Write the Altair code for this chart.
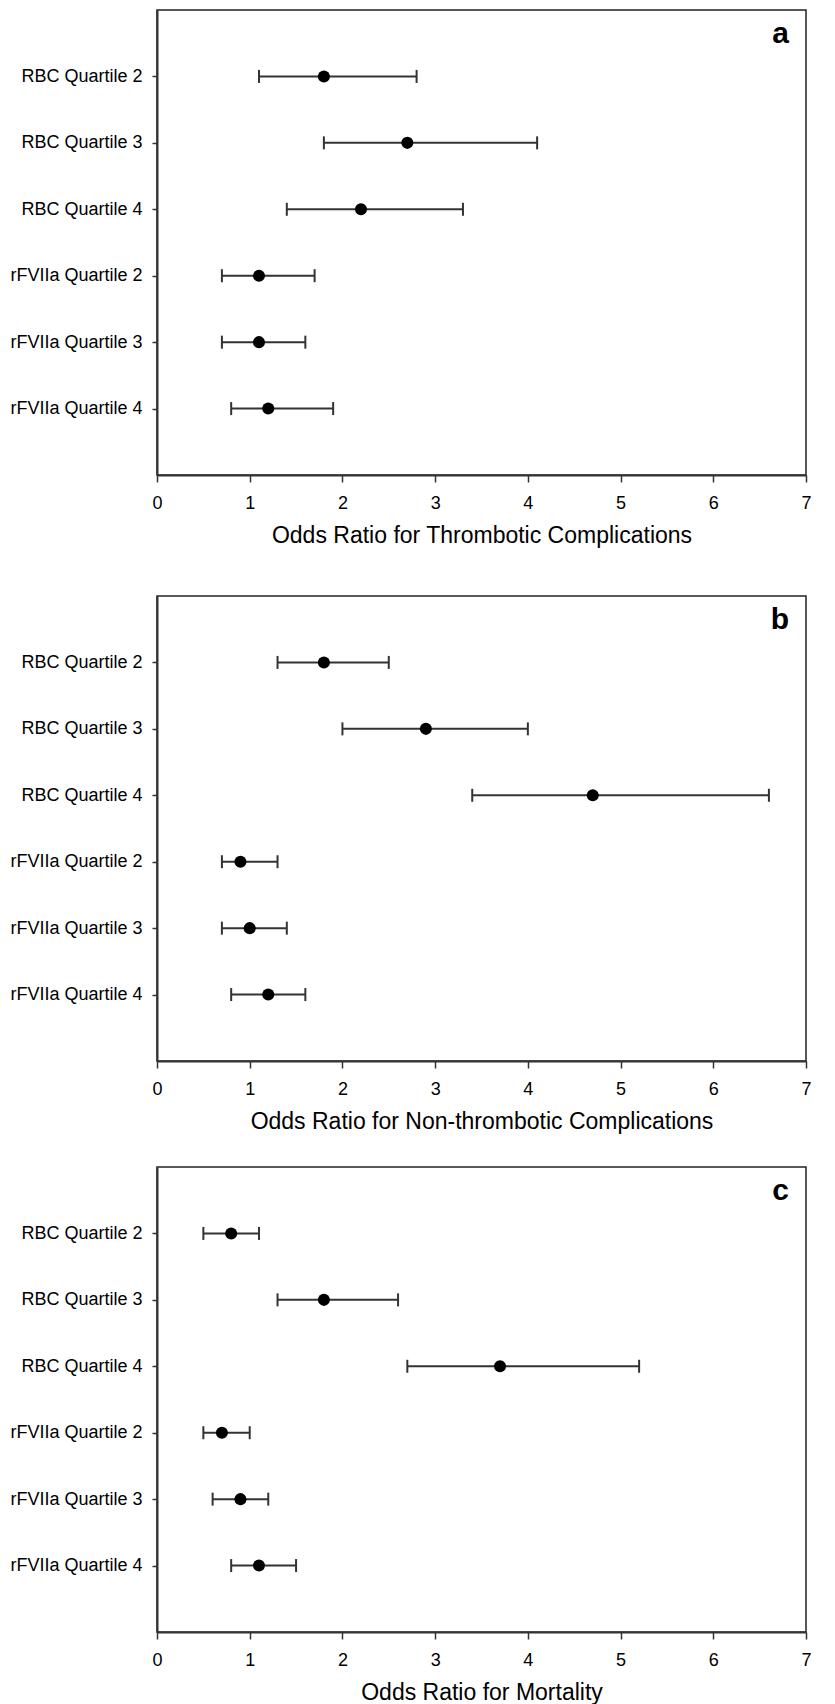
import altair as alt
import pandas as pd

categories = ["RBC Quartile 2", "RBC Quartile 3", "RBC Quartile 4",
              "rFVIIa Quartile 2", "rFVIIa Quartile 3", "rFVIIa Quartile 4"]

a_or = [1.8, 2.7, 2.2, 1.1, 1.1, 1.2]
a_lo = [1.1, 1.8, 1.4, 0.7, 0.7, 0.8]
a_hi = [2.8, 4.1, 3.3, 1.7, 1.6, 1.9]

b_or = [1.8, 2.9, 4.7, 0.9, 1.0, 1.2]
b_lo = [1.3, 2.0, 3.4, 0.7, 0.7, 0.8]
b_hi = [2.5, 4.0, 6.6, 1.3, 1.4, 1.6]

c_or = [0.8, 1.8, 3.7, 0.7, 0.9, 1.1]
c_lo = [0.5, 1.3, 2.7, 0.5, 0.6, 0.8]
c_hi = [1.1, 2.6, 5.2, 1.0, 1.2, 1.5]

x_ticks = [0, 1, 2, 3, 4, 5, 6, 7]
titles = ["Odds Ratio for Thrombotic Complications",
          "Odds Ratio for Non-thrombotic Complications",
          "Odds Ratio for Mortality"]
letters = ["a", "b", "c"]

LINE = "#333333"
FONT = "Liberation Sans"


def panel(orv, lo, hi, xtitle, letter):
    df = pd.DataFrame({"cat": categories, "or": orv, "lo": lo, "hi": hi})
    yscale = alt.Scale(type="point", padding=1)
    yaxis = alt.Axis(title=None, labelFontSize=18, labelColor="black",
                     tickSize=5, labelPadding=10, domainColor=LINE,
                     domainWidth=2, tickColor=LINE, tickWidth=1.5, grid=False)
    xscale = alt.Scale(domain=[0, 7], nice=False, zero=False)
    xaxis = alt.Axis(title=xtitle, values=x_ticks, format="d",
                     labelFontSize=18, labelColor="black", tickSize=7,
                     labelPadding=12, titleFontSize=23, titleFontWeight="normal",
                     titleColor="black", titlePadding=12, domainColor=LINE,
                     domainWidth=2, tickColor=LINE, tickWidth=1.5, grid=False,
                     labelFlush=False)
    y = alt.Y("cat:N", sort=categories, scale=yscale, axis=yaxis)
    base = alt.Chart(df)
    rule = base.mark_rule(color=LINE, strokeWidth=2).encode(
        x=alt.X("lo:Q", scale=xscale, axis=xaxis), x2="hi:Q", y=y)
    cap_lo = base.mark_tick(color=LINE, size=13, thickness=2, opacity=1).encode(
        x=alt.X("lo:Q", scale=xscale, axis=xaxis), y=y)
    cap_hi = base.mark_tick(color=LINE, size=13, thickness=2, opacity=1).encode(
        x=alt.X("hi:Q", scale=xscale, axis=xaxis), y=y)
    dots = base.mark_circle(size=145, color="black", opacity=1).encode(
        x=alt.X("or:Q", scale=xscale, axis=xaxis), y=y)
    return alt.layer(rule, cap_lo, cap_hi, dots).properties(
        width=649, height=465,
        title=alt.TitleParams(letter, anchor="end", orient="top", frame="group",
                              offset=-39, dx=-17, fontSize=30, fontWeight="bold",
                              font=FONT, color="black"))


pa = panel(a_or, a_lo, a_hi, titles[0], letters[0])
pb = panel(b_or, b_lo, b_hi, titles[1], letters[1])
pc = panel(c_or, c_lo, c_hi, titles[2], letters[2])

chart = alt.vconcat(pa, alt.vconcat(pb, pc, spacing=32), spacing=47).properties(
    padding={"left": 1, "top": 1, "right": 2, "bottom": 0}
).configure(font=FONT).configure_view(stroke="#222222", strokeWidth=1.5)

chart.save("out.html", embed_options={"renderer": "svg", "actions": False})
